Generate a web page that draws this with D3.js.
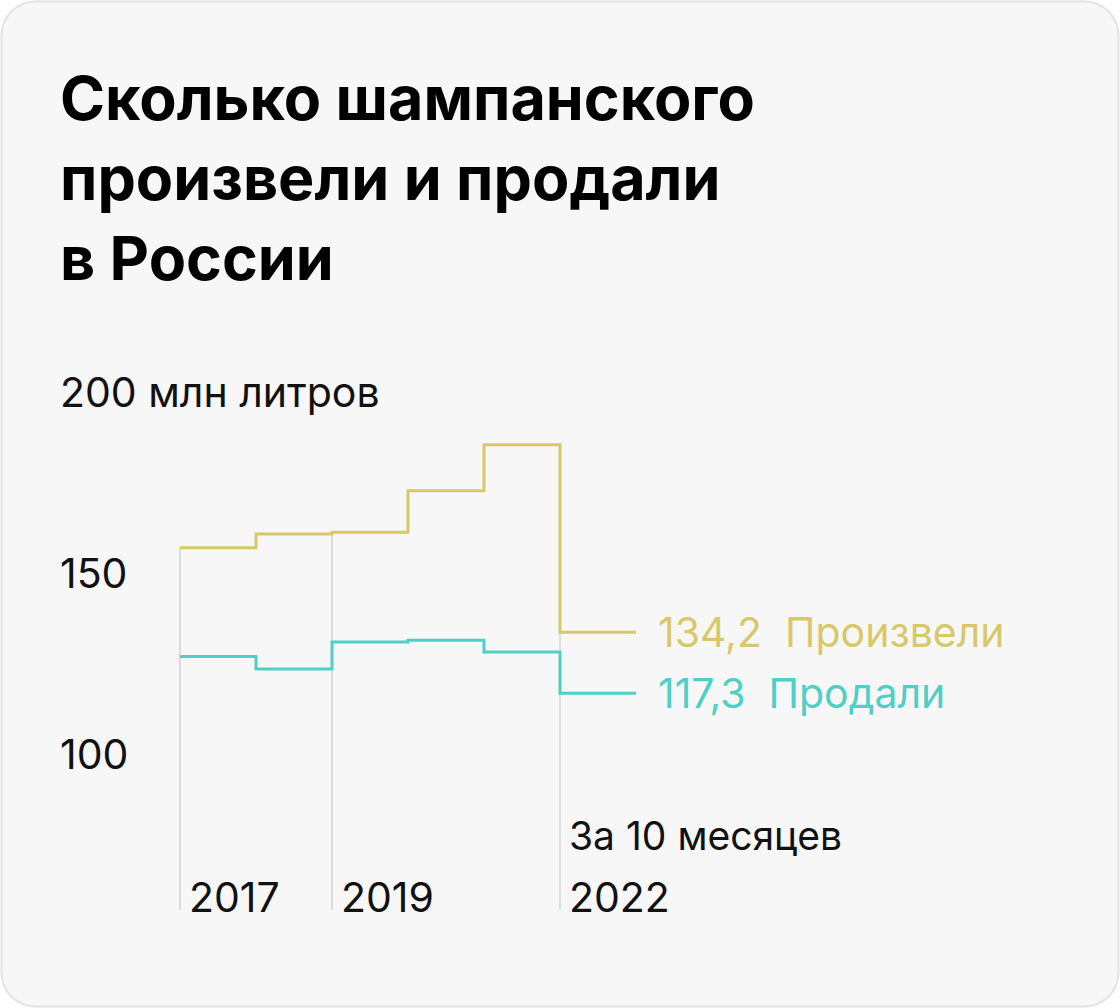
<!DOCTYPE html>
<html><head><meta charset="utf-8">
<script src="https://cdn.jsdelivr.net/npm/d3@7"></script>
<style>body{margin:0;background:#fff}svg{display:block}text{font-family:Inter,Roboto,sans-serif}</style>
</head><body><svg id="c" width="1120" height="1008"></svg>
<script>
const years = [2017, 2018, 2019, 2020, 2021, 2022];
const produced = [157.5, 161.3, 161.8, 173.3, 186.0, 134.2];
const sold = [127.5, 124.0, 131.5, 132.0, 128.7, 117.3];
const yTicks = [100, 150, 200];
const yearLabels = [2017, 2019, 2022];

const svg = d3.select("#c");
svg.append("rect").attr("x",1.5).attr("y",1.5).attr("width",1117).attr("height",1005).attr("rx",34)
  .attr("fill","#f7f7f7").attr("stroke","#e3e3e3").attr("stroke-width",2);
const title = ["Сколько шампанского","произвели и продали","в России"];
svg.append("text").attr("font-size",61).attr("font-weight",700).attr("fill","#000").attr("textLength",null)
  .selectAll("tspan").data(title).join("tspan").attr("x",60).attr("y",(d,i)=>120+i*80).text(d=>d);

const x = d3.scaleLinear().domain([2017, 2023]).range([180, 636]);
const y = d3.scaleLinear().domain([100, 200]).range([756, 394]);

yTicks.forEach(t=>{
  svg.append("text").attr("x",60).attr("y",y(t)+13).attr("font-size",41).attr("fill","#111")
    .text(t===200 ? "200 млн литров" : t);
});

yearLabels.forEach(yr=>{
  const i = years.indexOf(yr);
  svg.append("line").attr("x1",x(yr)).attr("x2",x(yr)).attr("y1",y(produced[i])).attr("y2",910)
    .attr("stroke","#d4d4d4").attr("stroke-width",1.5);
  svg.append("text").attr("x",x(yr)+9).attr("y",912).attr("font-size",41).attr("fill","#111").text(yr);
});
svg.append("text").attr("x",x(2022)+9).attr("y",850).attr("font-size",39).attr("fill","#111").text("За 10 месяцев");

function stepPath(vals){
  const pts = vals.map((v,i)=>({x:years[i], v}));
  pts.push({x:2023, v:vals[vals.length-1]});
  return d3.line().x(d=>x(d.x)).y(d=>y(d.v)).curve(d3.curveStepAfter)(pts);
}
const series = [{vals:produced,color:"#d8c86a",label:"134,2  Произвели"},{vals:sold,color:"#4fcfc6",label:"117,3  Продали"}];
series.forEach(s=>{
  svg.append("path").attr("d",stepPath(s.vals)).attr("fill","none").attr("stroke",s.color).attr("stroke-width",3);
  svg.append("text").attr("x",658).attr("y",y(s.vals[5])+15).attr("font-size",41).attr("fill",s.color)
    .attr("xml:space","preserve").text(s.label);
});
</script></body></html>
